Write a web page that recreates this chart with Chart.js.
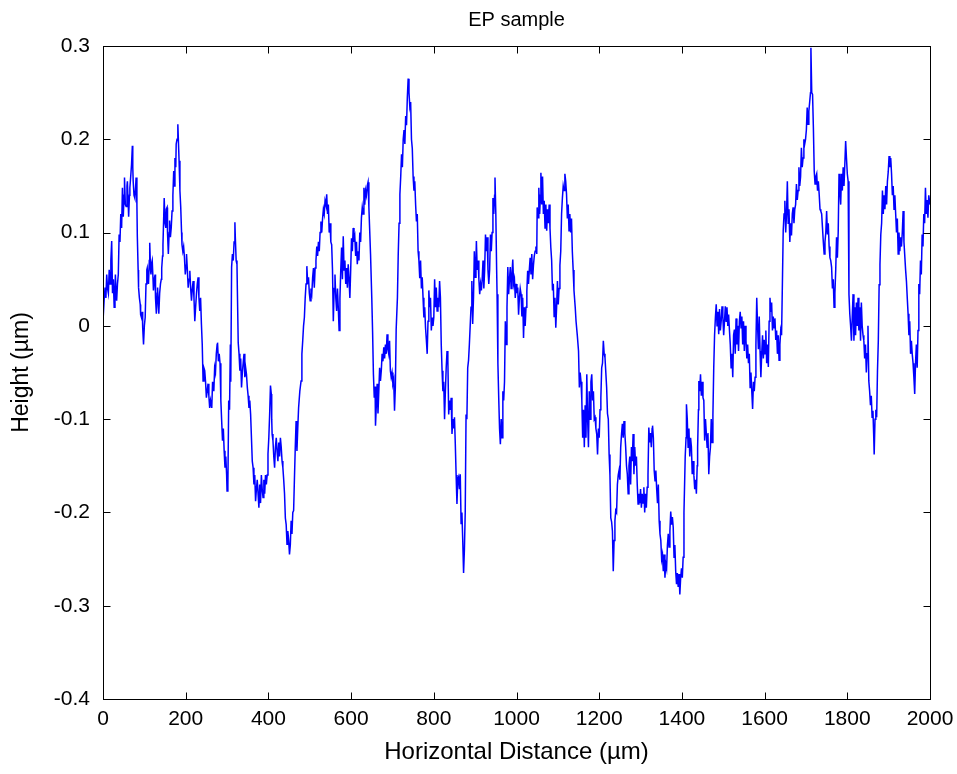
<!DOCTYPE html>
<html>
<head>
<meta charset="utf-8">
<title>EP sample</title>
<script src="https://cdn.jsdelivr.net/npm/chart.js@4.4.1/dist/chart.umd.min.js"></script>
<style>
  html, body { margin: 0; padding: 0; background: #ffffff; }
  #wrap { width: 957px; height: 774px; }
</style>
</head>
<body>
<div id="wrap"><canvas id="profile" width="957" height="774"></canvas></div>
<script>
// Surface profile of the EP sample: horizontal position (µm) and height (µm).
const distance = [
  // 0 - 260 µm
  0,3,5,7,9,11,13,15,17,19,
  21,23,25,27,29,30,32,33,35,37,
  39,41,43,45,47,49,51,52,54,56,
  58,59,61,62,64,65,67,69,71,72,
  73,75,77,79,80,82,83,85,86,88,
  90,91,93,95,96,98,100,102,104,106,
  107,109,110,112,113,115,116,118,119,121,
  122,124,126,127,129,131,132,134,135,137,
  139,141,142,144,145,147,148,150,152,153,
  155,156,158,160,161,163,165,167,169,171,
  173,174,176,177,179,181,183,184,186,188,
  190,191,193,195,197,199,201,202,204,206,
  208,210,212,214,216,218,220,222,224,226,
  228,230,232,234,236,238,240,242,244,246,
  248,250,252,254,256,258,
  // 260 - 511 µm
  260,263,265,268,270,272,274,276,277,279,
  281,283,285,287,289,291,293,295,297,299,
  300,302,304,306,308,309,311,313,315,317,
  319,320,322,324,325,327,329,331,333,335,
  337,339,341,343,345,347,349,351,353,355,
  357,359,361,363,365,367,369,371,373,375,
  377,379,381,383,385,387,389,391,393,395,
  397,399,401,403,405,407,408,409,411,413,
  415,417,419,421,423,425,427,429,431,433,
  435,437,439,441,443,445,447,449,451,453,
  455,457,459,461,463,465,467,469,471,473,
  476,479,481,483,485,487,489,491,493,495,
  497,499,501,503,505,507,509,511,
  // 513 - 766 µm
  513,515,517,519,521,523,525,527,529,531,
  533,535,537,539,541,543,545,547,549,551,
  553,555,557,559,561,563,565,567,569,571,
  573,575,577,579,581,583,585,587,589,591,
  593,595,597,599,601,603,605,607,609,611,
  613,615,617,619,621,623,625,627,629,631,
  633,635,637,639,641,643,645,647,650,652,
  654,656,658,659,661,663,665,667,669,671,
  673,675,677,679,681,683,685,687,689,691,
  693,695,697,699,701,703,705,707,709,712,
  714,716,718,720,722,724,726,728,730,732,
  734,736,738,740,742,744,746,748,750,752,
  754,756,758,760,762,764,766,
  // 768 - 1021 µm
  768,770,772,774,776,778,780,782,784,786,
  788,790,792,794,796,798,800,802,804,806,
  808,810,812,814,816,818,820,822,824,826,
  828,830,832,834,836,838,840,842,844,846,
  848,850,852,854,856,858,860,862,864,866,
  868,870,872,874,876,878,880,882,884,886,
  888,890,892,894,896,898,900,902,903,905,
  907,909,911,913,915,917,919,921,923,925,
  927,929,931,933,935,937,939,941,943,945,
  947,948,950,952,953,955,957,959,961,963,
  965,967,969,971,973,975,977,979,981,983,
  985,987,989,991,993,995,997,999,1001,1003,
  1005,1007,1009,1011,1013,1015,1017,1019,1021,
  // 1023 - 1274 µm
  1023,1025,1027,1029,1031,1033,1035,1037,1039,1041,
  1043,1045,1047,1049,1050,1052,1054,1056,1058,1059,
  1061,1063,1065,1067,1069,1071,1073,1075,1077,1079,
  1081,1083,1085,1087,1089,1091,1093,1095,1097,1099,
  1101,1103,1105,1107,1109,1111,1113,1115,1117,1119,
  1121,1123,1125,1127,1129,1131,1133,1135,1137,1139,
  1142,1144,1147,1150,1152,1154,1156,1158,1160,1162,
  1164,1166,1168,1170,1172,1174,1176,1178,1180,1182,
  1184,1186,1188,1190,1192,1194,1196,1198,1200,1202,
  1204,1206,1208,1210,1212,1214,1216,1218,1220,1222,
  1224,1226,1228,1230,1232,1234,1236,1238,1240,1242,
  1244,1246,1248,1250,1252,1254,1256,1258,1260,1262,
  1264,1266,1268,1270,1272,1274,
  // 1276 - 1527 µm
  1276,1278,1280,1282,1284,1286,1288,1290,1292,1294,
  1296,1298,1300,1302,1304,1306,1308,1310,1312,1314,
  1316,1318,1320,1322,1324,1326,1328,1329,1331,1333,
  1335,1337,1339,1341,1343,1345,1347,1349,1351,1353,
  1355,1357,1359,1361,1363,1365,1367,1369,1371,1373,
  1375,1377,1379,1381,1383,1385,1387,1389,1391,1393,
  1395,1397,1399,1401,1403,1405,1406,1408,1410,1411,
  1413,1415,1417,1419,1421,1423,1425,1427,1429,1431,
  1433,1435,1437,1438,1440,1441,1443,1445,1447,1449,
  1451,1453,1455,1457,1459,1461,1463,1465,1467,1469,
  1471,1473,1475,1477,1479,1481,1483,1485,1487,1489,
  1491,1493,1495,1497,1499,1501,1503,1505,1507,1509,
  1511,1513,1515,1517,1519,1521,1523,1525,1527,
  // 1529 - 1782 µm
  1529,1531,1533,1535,1537,1539,1541,1543,1545,1547,
  1549,1551,1553,1555,1557,1559,1561,1563,1565,1567,
  1569,1571,1573,1575,1577,1579,1581,1583,1585,1587,
  1589,1591,1593,1595,1597,1599,1601,1603,1605,1607,
  1609,1611,1613,1615,1617,1619,1621,1623,1625,1627,
  1629,1631,1633,1635,1637,1639,1641,1643,1645,1647,
  1649,1651,1653,1655,1657,1659,1661,1663,1665,1667,
  1669,1671,1673,1675,1677,1679,1681,1683,1685,1687,
  1689,1691,1693,1695,1697,1699,1701,1703,1705,1707,
  1709,1711,1712,1714,1716,1718,1720,1722,1724,1726,
  1728,1730,1732,1734,1736,1738,1740,1742,1744,1746,
  1748,1750,1752,1754,1756,1758,1760,1762,1764,1766,
  1768,1770,1772,1774,1776,1778,1780,1782,
  // 1784 - 2000 µm
  1784,1786,1788,1790,1792,1794,1796,1798,1800,1802,
  1804,1806,1808,1810,1812,1814,1816,1818,1820,1822,
  1824,1826,1828,1830,1832,1834,1836,1838,1840,1842,
  1844,1846,1848,1850,1852,1854,1856,1858,1860,1862,
  1864,1865,1867,1869,1871,1873,1875,1877,1879,1881,
  1883,1885,1887,1889,1891,1893,1895,1897,1899,1901,
  1903,1905,1907,1909,1911,1913,1915,1917,1919,1921,
  1923,1925,1927,1929,1931,1933,1935,1937,1939,1941,
  1943,1945,1947,1949,1951,1953,1955,1957,1959,1961,
  1963,1965,1967,1969,1971,1973,1975,1977,1979,1981,
  1983,1985,1987,1989,1991,1993,1995,1997,2000
];

const height = [
  // 0 - 260 µm
  0.005,0.03,0.041,0.03,0.055,0.04,0.035,0.06,0.045,0.07,
  0.091,0.035,0.05,0.02,0.04,0.055,0.03,0.027,0.045,0.055,
  0.098,0.09,0.12,0.105,0.148,0.117,0.14,0.159,0.13,0.128,
  0.15,0.155,0.13,0.117,0.14,0.148,0.16,0.173,0.193,0.17,
  0.155,0.14,0.137,0.15,0.159,0.13,0.096,0.06,0.041,0.03,
  0.023,0.012,0.009,0.015,-0.002,-0.02,0.0,0.009,0.045,0.06,
  0.062,0.05,0.045,0.07,0.089,0.06,0.055,0.068,0.07,0.05,
  0.038,0.05,0.055,0.03,0.013,0.035,0.041,0.02,0.013,0.035,
  0.045,0.05,0.062,0.075,0.087,0.12,0.137,0.11,0.105,0.125,
  0.127,0.1,0.077,0.1,0.113,0.095,0.105,0.123,0.14,0.166,
  0.15,0.18,0.17,0.195,0.2,0.216,0.19,0.177,0.145,0.127,
  0.1,0.087,0.08,0.085,0.073,0.055,0.065,0.077,0.06,0.041,
  0.05,0.059,0.04,0.027,0.04,0.048,0.03,0.005,0.02,0.034,
  0.045,0.052,0.03,0.016,0.03,0.002,-0.02,-0.059,-0.045,-0.048,
  -0.06,-0.077,-0.07,-0.062,-0.075,-0.088,
  // 260 - 511 µm
  -0.08,-0.088,-0.06,-0.07,-0.045,-0.05,-0.03,-0.02,-0.018,-0.038,
  -0.03,-0.04,-0.08,-0.102,-0.123,-0.11,-0.134,-0.152,-0.14,-0.16,
  -0.177,-0.17,-0.08,-0.09,-0.02,-0.06,0.063,0.077,0.07,0.09,
  0.111,0.095,0.07,0.066,0.037,-0.018,-0.03,-0.048,-0.035,-0.066,
  -0.05,-0.04,-0.03,-0.055,-0.045,-0.052,-0.066,-0.075,-0.088,-0.08,
  -0.095,-0.12,-0.145,-0.152,-0.17,-0.16,-0.188,-0.175,-0.165,-0.18,
  -0.195,-0.17,-0.19,-0.16,-0.175,-0.184,-0.165,-0.18,-0.16,-0.17,
  -0.16,-0.137,-0.12,-0.095,-0.064,-0.073,-0.1,-0.116,-0.123,-0.14,
  -0.152,-0.13,-0.12,-0.135,-0.145,-0.125,-0.14,-0.12,-0.13,-0.145,
  -0.152,-0.165,-0.18,-0.206,-0.213,-0.234,-0.22,-0.23,-0.245,-0.235,
  -0.209,-0.223,-0.2,-0.198,-0.163,-0.13,-0.102,-0.134,-0.11,-0.088,
  -0.07,-0.059,-0.03,-0.016,0.0,0.009,0.03,0.045,0.064,0.045,
  0.052,0.035,0.027,0.04,0.035,0.052,0.062,0.041,
  // 513 - 766 µm
  0.062,0.07,0.085,0.075,0.09,0.08,0.1,0.112,0.1,0.115,
  0.125,0.12,0.134,0.13,0.141,0.12,0.13,0.1,0.11,0.09,
  0.087,0.06,0.005,0.04,0.055,0.03,0.016,0.04,0.02,-0.005,
  0.03,0.06,0.084,0.05,0.096,0.06,0.07,0.045,0.062,0.041,
  0.066,0.05,0.03,0.06,0.094,0.08,0.105,0.09,0.095,0.075,
  0.09,0.066,0.08,0.07,0.1,0.09,0.116,0.127,0.12,0.148,
  0.13,0.145,0.14,0.15,0.154,0.127,0.102,0.077,0.03,-0.007,
  -0.052,-0.077,-0.065,-0.107,-0.085,-0.062,-0.094,-0.07,-0.045,-0.059,
  -0.048,-0.03,-0.038,-0.023,-0.035,-0.02,-0.03,-0.009,-0.025,-0.03,
  -0.016,-0.048,-0.055,-0.05,-0.062,-0.058,-0.091,-0.066,-0.004,0.03,
  0.077,0.11,0.141,0.16,0.184,0.17,0.2,0.21,0.195,0.225,
  0.215,0.245,0.265,0.25,0.235,0.24,0.2,0.19,0.16,0.145,
  0.155,0.13,0.112,0.12,0.08,0.07,0.051,
  // 768 - 1021 µm
  0.07,0.04,0.052,0.03,0.009,0.02,-0.002,-0.015,-0.03,0.005,
  0.038,0.02,0.03,-0.005,0.009,0.0,0.009,0.05,0.02,0.041,
  0.016,0.03,0.02,0.048,0.03,-0.02,-0.048,-0.07,-0.06,-0.1,
  -0.07,-0.045,-0.027,-0.037,-0.095,-0.08,-0.09,-0.077,-0.116,-0.1,
  -0.11,-0.098,-0.127,-0.16,-0.191,-0.165,-0.162,-0.175,-0.159,-0.212,
  -0.2,-0.23,-0.265,-0.24,-0.2,-0.095,-0.1,-0.045,-0.037,-0.02,
  0.0,0.02,0.048,0.002,0.03,0.08,0.052,0.07,0.091,0.06,
  0.07,0.05,0.034,0.045,0.038,0.05,0.07,0.04,0.06,0.098,
  0.08,0.095,0.06,0.045,0.06,0.098,0.08,0.1,0.137,0.12,
  0.14,0.159,0.12,0.06,0.034,-0.04,-0.077,-0.11,-0.127,-0.1,
  -0.12,-0.07,-0.08,-0.06,0.005,-0.02,0.02,0.063,0.034,0.05,
  0.063,0.04,0.055,0.071,0.045,0.05,0.03,0.045,0.035,0.041,
  0.012,0.03,0.04,0.034,0.01,0.03,-0.013,0.02,0.0,
  // 1023 - 1274 µm
  0.02,0.037,0.059,0.045,0.06,0.073,0.055,0.077,0.05,0.065,
  0.075,0.08,0.085,0.077,0.127,0.116,0.148,0.12,0.14,0.164,
  0.13,0.16,0.12,0.134,0.105,0.13,0.102,0.125,0.11,0.13,
  0.105,0.084,0.07,0.038,0.045,0.01,0.03,-0.002,0.02,0.048,
  0.023,0.04,0.065,0.08,0.12,0.137,0.15,0.145,0.163,0.155,
  0.141,0.115,0.13,0.102,0.12,0.1,0.115,0.08,0.06,0.038,
  0.02,0.005,-0.01,-0.027,-0.066,-0.05,-0.06,-0.08,-0.12,-0.09,
  -0.13,-0.085,-0.12,-0.052,-0.1,-0.13,-0.07,-0.1,-0.06,-0.052,
  -0.08,-0.07,-0.1,-0.098,-0.11,-0.116,-0.138,-0.11,-0.12,-0.09,
  -0.077,-0.045,-0.04,-0.016,-0.03,-0.034,-0.05,-0.066,-0.094,-0.1,
  -0.138,-0.16,-0.206,-0.21,-0.22,-0.263,-0.23,-0.209,-0.198,-0.2,
  -0.17,-0.16,-0.155,-0.165,-0.13,-0.116,-0.105,-0.12,-0.102,-0.115,
  -0.13,-0.15,-0.159,-0.18,-0.15,-0.14,
  // 1276 - 1527 µm
  -0.17,-0.13,-0.145,-0.116,-0.159,-0.13,-0.15,-0.14,-0.17,-0.191,
  -0.18,-0.19,-0.175,-0.195,-0.18,-0.19,-0.173,-0.2,-0.18,-0.195,
  -0.173,-0.16,-0.109,-0.125,-0.115,-0.13,-0.11,-0.107,-0.12,-0.155,
  -0.166,-0.155,-0.175,-0.19,-0.17,-0.209,-0.223,-0.23,-0.25,-0.245,
  -0.263,-0.245,-0.27,-0.255,-0.26,-0.235,-0.223,-0.237,-0.22,-0.199,
  -0.213,-0.205,-0.216,-0.248,-0.235,-0.263,-0.277,-0.265,-0.28,-0.266,
  -0.288,-0.27,-0.26,-0.27,-0.248,-0.2,-0.18,-0.14,-0.12,-0.084,
  -0.1,-0.13,-0.11,-0.14,-0.12,-0.13,-0.159,-0.145,-0.16,-0.175,
  -0.165,-0.18,-0.15,-0.13,-0.09,-0.059,-0.07,-0.052,-0.075,-0.06,
  -0.077,-0.08,-0.123,-0.1,-0.115,-0.13,-0.115,-0.159,-0.14,-0.13,
  -0.1,-0.125,-0.095,-0.045,-0.01,0.009,0.023,0.0,0.015,-0.009,
  0.018,-0.005,0.005,0.021,0.01,-0.01,0.005,0.021,0.005,0.02,
  0.0,0.012,-0.005,-0.02,-0.045,-0.03,-0.055,-0.01,-0.004,
  // 1529 - 1782 µm
  -0.03,0.008,-0.02,0.0,-0.027,0.005,0.015,-0.002,0.01,-0.02,
  0.005,-0.027,0.0,-0.016,-0.035,-0.02,-0.04,-0.03,-0.066,-0.05,
  -0.07,-0.089,-0.06,-0.07,-0.055,-0.02,0.03,0.0,-0.025,0.01,
  -0.027,-0.055,-0.03,-0.01,-0.035,-0.015,-0.03,-0.005,-0.04,-0.02,
  -0.044,0.005,0.03,0.015,0.025,-0.005,0.01,-0.002,0.008,-0.015,
  -0.005,-0.03,-0.01,-0.037,-0.02,-0.005,-0.01,0.044,0.102,0.12,
  0.134,0.1,0.12,0.155,0.11,0.125,0.09,0.11,0.097,0.12,
  0.127,0.11,0.125,0.13,0.152,0.135,0.145,0.17,0.15,0.16,
  0.191,0.17,0.18,0.2,0.195,0.2,0.21,0.234,0.216,0.23,
  0.24,0.25,0.298,0.25,0.248,0.212,0.166,0.152,0.16,0.163,
  0.145,0.155,0.141,0.125,0.123,0.12,0.105,0.09,0.077,0.09,
  0.1,0.123,0.098,0.11,0.085,0.073,0.07,0.063,0.04,0.05,
  0.02,0.035,0.06,0.095,0.073,0.1,0.163,0.145,
  // 1784 - 2000 µm
  0.13,0.163,0.145,0.17,0.15,0.173,0.198,0.18,0.163,0.155,
  0.034,0.013,0.0,-0.016,0.01,0.034,-0.016,0.02,-0.01,0.025,
  0.0,0.03,-0.005,0.02,-0.016,0.025,0.0,-0.01,-0.016,-0.035,
  -0.02,-0.05,-0.03,0.0,-0.059,-0.07,-0.085,-0.075,-0.098,-0.091,
  -0.12,-0.138,-0.1,-0.09,-0.098,-0.048,-0.016,0.044,0.066,0.098,
  0.11,0.145,0.12,0.14,0.125,0.15,0.13,0.155,0.165,0.182,
  0.17,0.18,0.163,0.14,0.15,0.125,0.14,0.12,0.1,0.115,
  0.077,0.1,0.08,0.095,0.085,0.1,0.123,0.09,0.075,0.06,
  0.048,0.03,0.013,-0.01,0.005,-0.03,-0.016,-0.03,-0.04,-0.055,
  -0.073,-0.04,-0.02,-0.045,-0.005,0.045,0.034,0.07,0.055,0.098,
  0.085,0.12,0.11,0.148,0.12,0.135,0.116,0.14,0.13
];

if (distance.length !== height.length) {
  throw new Error('distance/height length mismatch: ' + distance.length + ' vs ' + height.length);
}

const xRange = { min: 0, max: 2000, step: 200 };
const yRange = { min: -0.4, max: 0.3, step: 0.1 };
const FONT = 'Liberation Sans, Arial, Helvetica, sans-serif';

const points = distance.map((d, i) => ({ x: d, y: height[i] }));

// Box around the axes with short inward tick marks on all four sides.
const boxAxes = {
  id: 'boxAxes',
  afterDatasetsDraw(chart) {
    const { ctx, chartArea: a, scales: { x, y } } = chart;
    const len = 7;
    const L = Math.round(a.left) + 0.5, R = Math.round(a.right) + 0.5;
    const T = Math.round(a.top) + 0.5, B = Math.round(a.bottom) + 0.5;
    ctx.save();
    ctx.strokeStyle = '#000000';
    ctx.lineWidth = 1;
    ctx.beginPath();
    x.ticks.forEach(t => {
      const px = Math.round(x.getPixelForValue(t.value)) + 0.5;
      ctx.moveTo(px, B); ctx.lineTo(px, B - len);
      ctx.moveTo(px, T); ctx.lineTo(px, T + len);
    });
    y.ticks.forEach(t => {
      const py = Math.round(y.getPixelForValue(t.value)) + 0.5;
      ctx.moveTo(L, py); ctx.lineTo(L + len, py);
      ctx.moveTo(R, py); ctx.lineTo(R - len, py);
    });
    ctx.stroke();
    ctx.strokeRect(L, T, R - L, B - T);
    ctx.restore();
  }
};

new Chart(document.getElementById('profile'), {
  type: 'line',
  data: {
    datasets: [{
      data: points,
      borderColor: '#0000ff',
      borderWidth: 1.5,
      pointRadius: 0,
      pointHoverRadius: 0,
      tension: 0,
      fill: false
    }]
  },
  options: {
    responsive: false,
    animation: false,
    events: [],
    layout: { padding: { left: 0, right: 27, top: 0, bottom: 0 } },
    plugins: {
      legend: { display: false },
      tooltip: { enabled: false },
      title: {
        display: true,
        fullSize: false,
        text: 'EP sample',
        color: '#000000',
        font: { family: FONT, size: 20, weight: 'normal' },
        padding: { top: 8, bottom: 14 }
      }
    },
    scales: {
      x: {
        type: 'linear',
        min: xRange.min,
        max: xRange.max,
        afterFit(scale) {
          scale.height = 75;
          // the outer edge labels fit inside the fixed margins
          scale.paddingLeft = 0;
          scale.paddingRight = 0;
        },
        grid: { display: false, drawTicks: false },
        border: { display: false },
        ticks: {
          stepSize: xRange.step,
          color: '#000000',
          padding: 8,
          maxRotation: 0,
          autoSkip: false,
          font: { family: FONT, size: 21 },
          callback: v => String(v)
        },
        title: {
          display: true,
          text: 'Horizontal Distance (µm)',
          color: '#000000',
          font: { family: FONT, size: 24 },
          padding: { top: 0, bottom: 7 }
        }
      },
      y: {
        type: 'linear',
        min: yRange.min,
        max: yRange.max,
        afterFit(scale) { scale.width = 103; },
        grid: { display: false, drawTicks: false },
        border: { display: false },
        ticks: {
          stepSize: yRange.step,
          color: '#000000',
          padding: 13,
          autoSkip: false,
          font: { family: FONT, size: 21 },
          callback: v => String(Number(Number(v).toFixed(1)))
        },
        title: {
          display: true,
          text: 'Height (µm)',
          color: '#000000',
          font: { family: FONT, size: 23 },
          padding: { top: 8, bottom: 0 }
        }
      }
    }
  },
  plugins: [boxAxes]
});
</script>
</body>
</html>
